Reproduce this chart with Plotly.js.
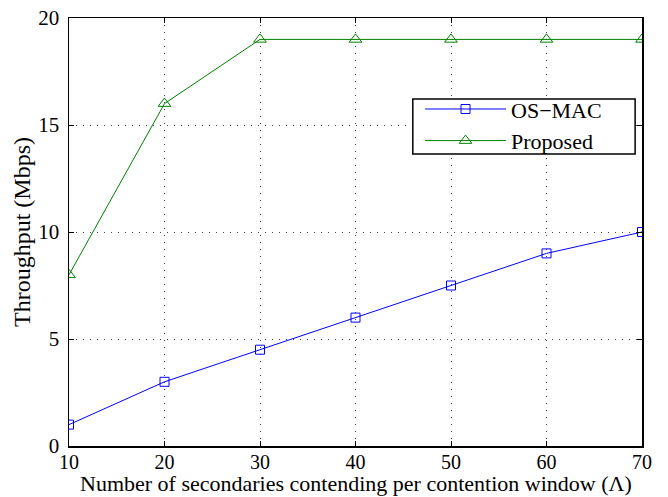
<!DOCTYPE html>
<html><head><meta charset="utf-8">
<script src="https://cdn.plot.ly/plotly-3.0.1.min.js"></script>
<style>html,body{margin:0;padding:0;background:#fff}</style>
</head><body><div id="chart" style="width:668px;height:497px"></div>
<script>
const xValues = [10, 20, 30, 40, 50, 60, 70];
const osMac = [1, 3, 4.5, 6, 7.5, 9, 10];
const proposed = [8, 16, 19, 19, 19, 19, 19];
const seriesNames = ['OS\u2212MAC', 'Proposed'];
const yTicks = [0, 5, 10, 15, 20];
const xTitle = 'Number of secondaries contending per contention window (\u039B)';
const yTitle = 'Throughput (Mbps)';

const font = 'Liberation Serif, Times New Roman, serif';
const traces = [
  {x: xValues, y: osMac, name: seriesNames[0], mode: 'lines+markers',
   line: {color: '#0000ff', width: 1},
   marker: {symbol: 'square-open', size: 9, color: '#0000ff', line: {width: 1}}},
  {x: xValues, y: proposed, name: seriesNames[1], mode: 'lines+markers',
   line: {color: '#008000', width: 1},
   marker: {symbol: 'triangle-up-open', size: 11, color: '#008000', line: {width: 1}}}
];
const axisCommon = {
  showline: true, linecolor: '#000', linewidth: 1.5, mirror: 'ticks',
  ticks: 'inside', ticklen: 5, tickcolor: '#000',
  showgrid: true, gridcolor: '#444', gridwidth: 1, griddash: '1px,6px',
  zeroline: false, tickfont: {family: font, size: 21, color: '#000'}
};
const layout = {
  width: 668, height: 497,
  margin: {l: 69, r: 26, t: 18, b: 51},
  paper_bgcolor: '#fff', plot_bgcolor: '#fff',
  font: {family: font, color: '#000'},
  xaxis: Object.assign({}, axisCommon, {range: [10, 70], tickvals: xValues, automargin: false,
    ticklabelstandoff: -3, tickfont: {family: font, size: 20, color: '#000'}}),
  yaxis: Object.assign({}, axisCommon, {range: [0, 20], tickvals: yTicks, automargin: false,
    ticklabelstandoff: 4}),
  annotations: [
    {text: xTitle, xref: 'paper', yref: 'paper', x: 0.5, y: 0, yshift: -51,
     xanchor: 'center', yanchor: 'bottom', showarrow: false, borderpad: 0,
     font: {family: font, size: 22, color: '#000'}},
    {text: yTitle, xref: 'paper', yref: 'paper', x: 0, y: 0.5, xshift: -47,
     xanchor: 'center', yanchor: 'middle', textangle: -90, showarrow: false,
     font: {family: font, size: 24, color: '#000'}}
  ],
  shapes: [
    {type: 'rect', xref: 'paper', yref: 'paper', x0: 0.600, x1: 0.988, y0: 0.682, y1: 0.811,
     line: {color: '#000', width: 1.5}, fillcolor: '#fff', layer: 'above'}
  ],
  showlegend: true,
  legend: {x: 0.6126, y: 0.836, xanchor: 'left', yanchor: 'top',
    borderwidth: 0, bgcolor: 'rgba(0,0,0,0)',
    font: {family: font, size: 22, color: '#000'}, itemwidth: 81, tracegroupgap: 0}
};
Plotly.newPlot('chart', traces, layout, {staticPlot: true, displayModeBar: false});
</script></body></html>
